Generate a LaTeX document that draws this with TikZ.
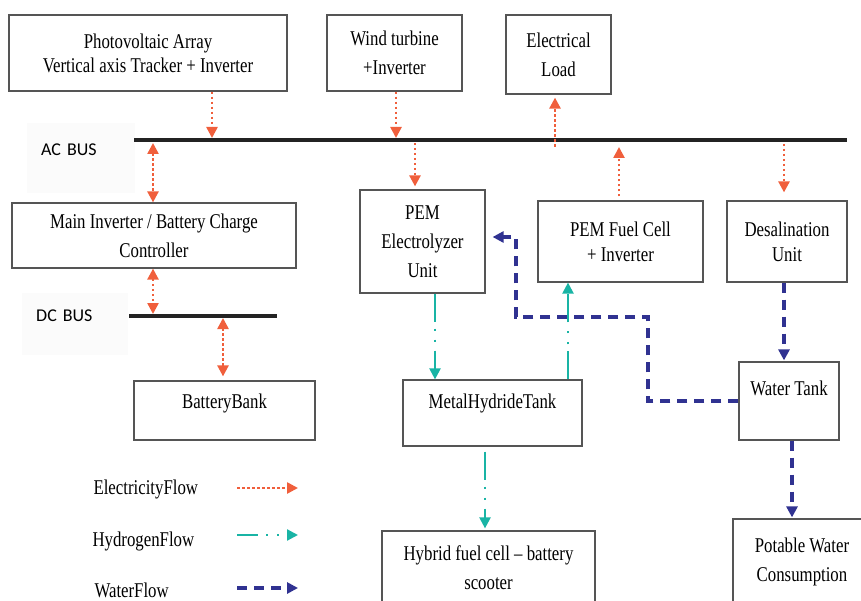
\documentclass[tikz,border=0pt]{standalone}
\usepackage{fontspec}
\setmainfont{Liberation Serif}[FakeStretch=0.8]
\newfontfamily\busfont{Carlito}
\usetikzlibrary{arrows.meta,positioning,calc}
\definecolor{colElec}{RGB}{240,95,60}
\definecolor{colHydro}{RGB}{25,180,165}
\definecolor{colWater}{RGB}{48,50,145}
\definecolor{colBord}{RGB}{85,85,85}
\definecolor{colBus}{RGB}{35,35,35}

\begin{document}
\begin{tikzpicture}[x=1pt, y=-1pt, font=\fontsize{21}{26}\selectfont,
    tri/.tip={Triangle[length=11pt,width=11pt]},
    b/.style={rectangle, draw=colBord, line width=1.2pt, fill=white,
      align=center, inner sep=0pt},
    bus/.style={line width=4pt, colBus},
    busl/.style={anchor=north west, fill=black!1.5, align=left,
      font=\busfont\fontsize{18}{22}\selectfont, inner xsep=14pt, inner ysep=0pt},
    elec/.style={-tri, colElec, line width=2.5pt, dash pattern=on 2.5pt off 2.5pt},
    elecd/.style={elec, tri-tri},
    hyd/.style={-tri, colHydro, line width=2.2pt,
      dash pattern=on 28pt off 7pt on 2pt off 9pt on 2pt off 9pt},
    wat/.style={-tri, colWater, line width=3.2pt, dash pattern=on 10pt off 7pt}]
    \useasboundingbox (0,0) rectangle (861,601);
    % bus labels
    \node[busl, text width=80pt, minimum height=70pt, text depth=17pt] (acl)
      at (27,123) {AC BUS};
    \node[busl, text width=78pt, minimum height=62pt, text depth=17pt] (dcl)
      at (22,293) {DC BUS};
    % boxes
    \node[b, minimum width=278pt, minimum height=76pt] (pv) at (148,53)
      {Photovoltaic Array\\[-2pt]Vertical axis Tracker + Inverter};
    \node[b, minimum width=135pt, minimum height=76pt] (wind) at (394.5,53)
      {Wind turbine\\[3pt]+Inverter};
    \node[b, minimum width=105pt, minimum height=79pt] (load) at (558.5,54.5)
      {Electrical\\[3pt]Load};
    \node[b, minimum width=284pt, minimum height=65pt] (inv) at (154,235.5)
      {Main Inverter / Battery Charge\\[3pt]Controller};
    \node[b, minimum width=181pt, minimum height=59pt, text depth=18.7pt] (bat)
      at (224.5,410.5) {BatteryBank};
    \node[b, minimum width=125pt, minimum height=103pt] (elz) at (422.5,241.5)
      {PEM\\[3pt]Electrolyzer\\[3pt]Unit};
    \node[b, minimum width=165pt, minimum height=81pt] (fc) at (620.5,241.5)
      {PEM Fuel Cell\\[-1pt]+ Inverter};
    \node[b, minimum width=120pt, minimum height=81pt] (ds) at (787,241.5)
      {Desalination\\[-1pt]Unit};
    \node[b, minimum width=179pt, minimum height=66pt, text depth=23.7pt] (mh)
      at (492.5,413) {MetalHydrideTank};
    \node[b, minimum width=100pt, minimum height=78pt, text depth=25pt] (tank)
      at (789,401) {Water Tank};
    \node[b, minimum width=213pt, minimum height=73pt] (scoot) at (488.5,567.5)
      {Hybrid fuel cell -- battery\\[3pt]scooter};
    \node[b, minimum width=138pt, minimum height=85pt] (pot) at (802,561.5)
      {Potable Water\\[3pt]Consumption};
    % buses
    \coordinate (acW) at (134,140); \coordinate (acE) at (847,140);
    \coordinate (dcW) at (129,316); \coordinate (dcE) at (277,316);
    \draw[bus] (acW) -- (acE);
    \draw[bus, line width=3.5pt] (dcW) -- (dcE);
    % electricity taps
    \coordinate (pvT) at (212,138); \coordinate (wiT) at (396,138);
    \coordinate (ldT) at (555,147); \coordinate (elT) at (415,143);
    \coordinate (fcT) at (619,147); \coordinate (dsT) at (784,144);
    \coordinate (invT) at (153,143); \coordinate (dcT1) at (153,314);
    \coordinate (dcT2) at (223,318);
    \draw[elec] (pv.south -| pvT) -- (pvT);
    \draw[elec] (wind.south -| wiT) -- (wiT);
    \draw[elec, shorten >=3pt] (ldT) -- (load.south -| ldT);
    \draw[elec, shorten >=3pt] (elT) -- (elz.north -| elT);
    \draw[elec, shorten <=4pt] (fc.north -| fcT) -- (fcT);
    \draw[elec, shorten >=8pt] (dsT) -- (ds.north -| dsT);
    \draw[elecd] (invT) -- (inv.north -| invT);
    \draw[elecd] (inv.south -| dcT1) -- (dcT1);
    \draw[elecd, shorten >=4pt] (dcT2) -- (bat.north -| dcT2);
    % hydrogen
    \draw[hyd] ([xshift=12.5pt]elz.south) -- ([xshift=12.5pt]elz.south |- mh.north);
    \draw[hyd] ([xshift=75.5pt]mh.north) -- ([xshift=75.5pt]mh.north |- fc.south);
    \draw[hyd, shorten <=5pt, shorten >=2pt] ([xshift=-7.5pt]mh.south)
      -- ([xshift=-7.5pt]mh.south |- scoot.north);
    % water
    \coordinate (wA) at (648,317); \coordinate (wB) at (516,237);
    \draw[wat, shorten >=1pt] ([xshift=-3pt]ds.south) -- ([xshift=-3pt]ds.south |- tank.north);
    \draw[wat, shorten >=1pt] ([xshift=3pt]tank.south) -- ([xshift=3pt]tank.south |- pot.north);
    \draw[wat, shorten >=7pt] (tank.west) -| (wA) -| (wB) -- (wB -| elz.east);
    % legend
    \node[anchor=base west] (lgEl) at (90,494) {ElectricityFlow};
    \node[anchor=base west] (lgHy) at (89,546) {HydrogenFlow};
    \node[anchor=base west] (lgWa) at (91,597) {WaterFlow};
    \coordinate (kEl) at (237,488); \coordinate (kHy) at (237,535);
    \coordinate (kWa) at (237,588);
    \draw[elec] (kEl) -- ++(61,0);
    \draw[hyd, dash pattern=on 21pt off 8pt on 2pt off 9pt on 2pt off 9pt] (kHy) -- ++(61,0);
    \draw[wat] (kWa) -- ++(61,0);
\end{tikzpicture}
\end{document}
